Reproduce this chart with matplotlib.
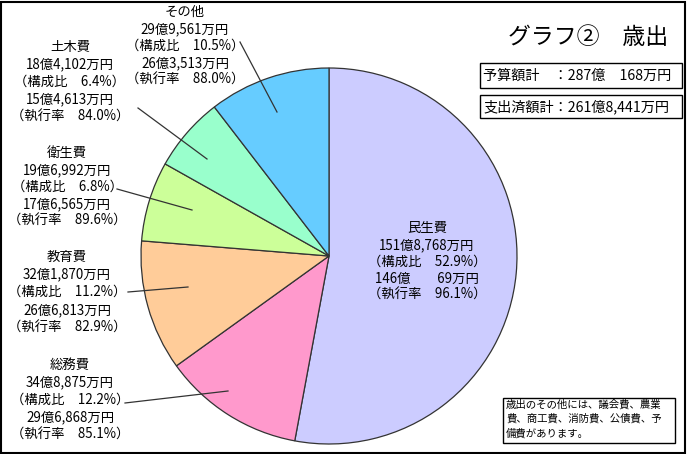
import matplotlib
matplotlib.use("Agg")
import matplotlib.pyplot as plt
from matplotlib.patches import Rectangle

plt.rcParams['font.family'] = ['Noto Sans CJK JP', 'DejaVu Sans']

# ---- data ----
categories = ["民生費", "総務費", "教育費", "衛生費", "土木費", "その他"]
budget_man = [1518768, 348875, 321870, 196992, 184102, 299561]   # 万円
spent_man = [1460069, 296868, 266813, 176565, 154613, 263513]    # 万円
share_pct = [52.9, 12.2, 11.2, 6.8, 6.4, 10.5]
exec_pct = [96.1, 85.1, 82.9, 89.6, 84.0, 88.0]
colors = ["#CCCCFF", "#FF99CC", "#FFCC99", "#CCFF99", "#99FFCC", "#66CCFF"]
total_budget_man = 2870168
total_spent_man = 2618441
title = "グラフ②　歳出"
note_lines = ["歳出のその他には、議会費、農業",
              "費、商工費、消防費、公債費、予",
              "備費があります。"]

W, H = 687, 454


def fmt(v):
    oku, man = divmod(v, 10000)
    if man >= 1000:
        ms = f"{man:,}"
    else:
        ms = "　" * (2 if man < 100 else 1) + str(man)
    return f"{oku}億{ms}万円"


fig = plt.figure(figsize=(W / 100, H / 100), dpi=100)
ax = fig.add_axes([0, 0, 1, 1])


def Y(y):
    return H - y


# pie
ax.pie(budget_man, colors=colors, startangle=90, counterclock=False,
       center=(329, Y(256)), radius=188, frame=True,
       wedgeprops=dict(edgecolor="#333333", linewidth=0.9))
ax.set_xlim(0, W)
ax.set_ylim(0, H)
ax.set_aspect('equal')
ax.axis('off')

# label layout: (center x, first line y, spacing)
layout = {
    "民生費": (427, 228, 16.8),
    "総務費": (70, 365, 17.5),
    "教育費": (67, 257, 17.6),
    "衛生費": (67, 153, 17.0),
    "土木費": (70, 47, 17.5),
    "その他": (185, 12, 17.0),
}
for i, c in enumerate(categories):
    x, y0, sp = layout[c]
    lines = [c, fmt(budget_man[i]), f"（構成比　{share_pct[i]:.1f}%）",
             fmt(spent_man[i]), f"（執行率　{exec_pct[i]:.1f}%）"]
    for k, t in enumerate(lines):
        ax.text(x, Y(y0 + k * sp), t, ha='center', va='center', fontsize=9.6,
                color='black')

# leader lines
leaders = [((240, 42), (277, 112)), ((138, 108), (207, 159)),
           ((117, 189), (192, 210)), ((128, 292), (188, 287)),
           ((125, 403), (228, 391))]
for (x1, y1), (x2, y2) in leaders:
    ax.plot([x1, x2], [Y(y1), Y(y2)], color="#333333", lw=0.9)

# title
ax.text(588, Y(37), title, ha='center', va='center', fontsize=16.5, color='black')

# total boxes
for (y1, y2), t in [((63, 88), f"予算額計　：{fmt(total_budget_man)}"),
                    ((95, 118), f"支出済額計：{fmt(total_spent_man)}")]:
    ax.add_patch(Rectangle((480, Y(y2)), 202, y2 - y1, fill=False,
                           edgecolor='black', lw=1))
    ax.text(483, Y((y1 + y2) / 2), t, ha='left', va='center', fontsize=10.2)

# note box
ax.add_patch(Rectangle((503, Y(443)), 172, 45, fill=False, edgecolor='black', lw=1))
for k, t in enumerate(note_lines):
    ax.text(506, Y(405 + k * 14), t, ha='left', va='center', fontsize=7.5)

# outer border
ax.add_patch(Rectangle((1, 1), W - 3, H - 3, fill=False, edgecolor='black', lw=1.5))

fig.savefig("out.png", dpi=100)
